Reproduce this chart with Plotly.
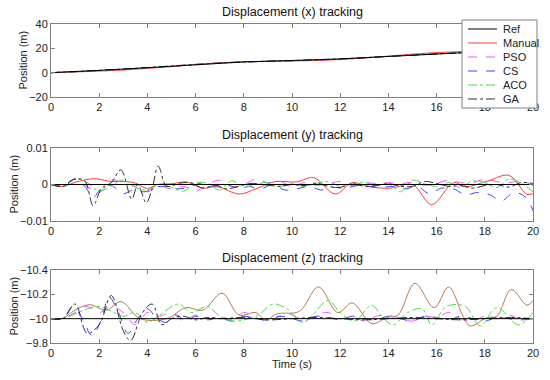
import plotly.graph_objects as go

# ---------------- data ----------------
series_names = ["Ref", "Manual", "PSO", "CS", "ACO", "GA"]
tick_times = [0, 2, 4, 6, 8, 10, 12, 14, 16, 18, 20]

# Panel 1: displacement x (m)
tx = [0, 1, 2, 3, 4, 5, 6, 7, 8, 9, 10, 11, 12, 13, 14, 15, 16, 17, 18, 19, 20]
x_ref = [0, 0.8, 1.8, 2.9, 4.1, 5.4, 6.7, 7.9, 8.8, 9.4, 9.9, 10.5, 11.3, 12.3, 13.4, 14.5, 15.5, 16.3, 17.0, 17.5, 18.0]
x_manual = [0, 0.6, 1.3, 2.2, 3.5, 5.0, 6.7, 8.1, 9.0, 9.4, 9.6, 10.0, 10.8, 12.0, 13.6, 15.2, 16.5, 17.3, 17.6, 17.8, 18.0]
x_pso = [0, 0.8, 1.7, 2.8, 4.0, 5.5, 6.9, 8.1, 8.9, 9.4, 9.8, 10.4, 11.2, 12.3, 13.5, 14.7, 15.7, 16.5, 17.1, 17.5, 18.0]
x_cs = [0, 0.9, 1.9, 3.0, 4.2, 5.4, 6.6, 7.8, 8.7, 9.3, 9.8, 10.4, 11.3, 12.4, 13.5, 14.5, 15.4, 16.2, 16.9, 17.4, 17.9]
x_aco = [0, 0.8, 1.8, 2.9, 4.1, 5.5, 6.8, 8.0, 8.8, 9.4, 9.9, 10.6, 11.4, 12.4, 13.4, 14.5, 15.5, 16.3, 17.0, 17.5, 18.0]
x_ga = [0, 0.8, 1.8, 3.0, 4.2, 5.4, 6.7, 7.9, 8.8, 9.4, 9.9, 10.5, 11.3, 12.3, 13.4, 14.5, 15.5, 16.3, 17.0, 17.5, 18.0]

# Panel 2: displacement y (m)
ty_manual = [0, 0.45, 1.0, 1.8, 2.5, 3.1, 3.5, 4.0, 4.4, 5.0, 5.6, 6.3, 6.9, 7.8, 8.5, 9.3, 10.2, 10.9, 11.8, 12.5,
             13.2, 14.1, 15.0, 15.8, 16.7, 17.2, 18.1, 19.0, 19.75, 20]
y_manual = [0, -0.0006, 0.0006, 0.0016, 0.0008, 0.0008, 0.0004, -0.0011, 0.0, 0.0002, 0.0007, -0.001, -0.0006,
            -0.0026, -0.0012, 0.0008, 0.0007, 0.0019, -0.0026, 0.0005, -0.0006, -0.001, 0.0, -0.0055, 0.0005,
            -0.0006, 0.0009, 0.0025, -0.0027, -0.0025]
ty_ga = [0, 0.5, 1.0, 1.4, 1.75, 2.1, 2.5, 2.9, 3.35, 3.6, 3.95, 4.2, 4.45, 4.8, 5.3, 5.8, 6.3, 6.8, 7.3, 7.8, 8.3,
         8.8, 9.5, 10, 10.5, 11, 11.5, 12, 12.5, 13, 13.5, 14, 14.5, 15, 15.5, 16, 16.5, 17, 17.5, 18, 18.5, 19,
         19.5, 20]
y_ga = [0, -0.0005, 0.0015, 0.001, -0.0058, -0.001, 0.0005, 0.004, -0.004, 0.0, -0.005, -0.001, 0.005, -0.0005,
        0.0003, 0.0005, -0.001, -0.0002, -0.0012, -0.0005, 0.0003, 0.0, -0.0005, 0.0, -0.0003, 0.0004, -0.0005,
        -0.0008, 0.0002, -0.0005, -0.0003, 0.0002, -0.0005, -0.0005, 0.0008, 0.0003, -0.0005, -0.0003, -0.001,
        -0.0003, 0.0, -0.0007, 0.0005, 0.0003]
ty_cs = [0, 0.5, 1.0, 1.4, 1.75, 2.1, 2.5, 3.0, 3.4, 3.9, 4.3, 4.7, 5.2, 5.7, 6.2, 6.7, 7.2, 7.7, 8.2, 8.7, 9.2,
         9.7, 10.2, 10.7, 11.2, 11.7, 12.2, 12.7, 13.2, 13.7, 14.2, 14.7, 15.2, 15.7, 16.2, 16.7, 17.2, 17.7, 18.2,
         18.7, 19.2, 19.7, 20]
y_cs = [0, -0.0003, 0.0015, -0.0005, -0.0035, -0.001, -0.0003, -0.0025, -0.0015, -0.002, -0.0008, -0.0005,
        -0.0012, -0.0008, 0.0003, -0.0005, 0.0, -0.0008, -0.0005, -0.0012, 0.0, -0.0015, -0.0012, -0.0005,
        -0.0015, -0.0008, -0.001, -0.0003, -0.0005, -0.0008, -0.0005, -0.0012, -0.0005, -0.0025, -0.001,
        -0.0012, -0.0028, -0.0022, -0.0028, -0.0045, -0.0022, -0.0035, -0.0072]
ty_half = [0, 0.5, 1.0, 1.5, 2.0, 2.5, 3.0, 3.5, 4.0, 4.5, 5.0, 5.5, 6.0, 6.5, 7.0, 7.5, 8.0, 8.5, 9.0, 9.5, 10.0,
           10.5, 11.0, 11.5, 12.0, 12.5, 13.0, 13.5, 14.0, 14.5, 15.0, 15.5, 16.0, 16.5, 17.0, 17.5, 18.0, 18.5,
           19.0, 19.5, 20.0]
y_aco = [0, -0.0005, 0.0015, 0.0005, -0.0018, -0.0003, 0.0012, -0.0008, -0.0015, 0.0, -0.0008, -0.0018, 0.0005,
         0.0003, -0.0015, 0.001, -0.0008, 0.0002, 0.0005, -0.0005, 0.0002, -0.0005, 0.0003, 0.0008, -0.0005,
         0.0002, 0.0006, -0.0003, 0.0003, -0.002, 0.0012, 0.0002, -0.0005, 0.0005, -0.0008, 0.001, 0.0005,
         -0.0008, 0.0015, 0.0004, -0.002]
y_pso = [0, -0.0003, 0.0015, -0.0005, -0.0022, 0.0012, 0.0005, -0.0005, -0.002, -0.0005, -0.0012, -0.0005,
         -0.0018, 0.0, 0.0012, -0.0005, 0.0, 0.0015, 0.0005, 0.0008, -0.0005, 0.0005, -0.0002, 0.0002, 0.0008,
         -0.0003, 0.0005, 0.0003, 0.0005, 0.0002, 0.0006, -0.0002, 0.0003, 0.0012, 0.0005, 0.0005, 0.0015,
         0.0008, 0.0005, 0.001, -0.0003]
y_ref = [0.0] * len(ty_half)

# Panel 3: displacement z (m)
tz_manual = [0, 0.45, 1.0, 1.6, 2.3, 2.9, 3.7, 4.8, 5.6, 6.3, 7.1, 7.8, 8.5, 8.9, 9.4, 10.3, 11.1, 11.9, 12.5,
             13.3, 13.95, 14.4, 15.1, 15.9, 16.5, 17.1, 17.4, 18.1, 18.5, 19.1, 19.75, 20]
z_manual = [-10, -10, -10.07, -10.115, -10.07, -10.14, -10.0, -10.0, -10.09, -10.07, -10.21, -10.03, -10.05,
            -9.99, -10.04, -10.06, -10.26, -10.05, -10.13, -9.96, -10.01, -10.03, -10.29, -10.09, -10.26, -10.02,
            -9.94, -10.01, -10.02, -10.24, -10.11, -10.15]
z_ref = [-10.0] * len(ty_half)
tz_cs = [0, 0.5, 0.9, 1.3, 1.7, 2.1, 2.4, 2.8, 3.2, 3.6, 4.0, 4.4, 4.8, 5.2, 5.6, 6.0, 6.5, 7.0, 7.5, 8.0, 8.5,
         9.0, 9.5, 10.0, 10.5, 11.0, 11.5, 12.0, 12.5, 13.0, 13.5, 14.0, 14.5, 15.0, 15.5, 16.0, 16.5, 17.0,
         17.5, 18.0, 18.5, 19.0, 19.5, 20.0]
z_cs = [-10, -10, -10.1, -10.0, -9.86, -10.0, -10.18, -10.05, -9.88, -10.0, -10.08, -10.0, -9.97, -10.03, -9.98,
        -10.02, -9.99, -10.01, -9.98, -10.02, -10.0, -9.99, -10.02, -10.0, -9.98, -10.02, -10.01, -9.99, -10.02,
        -10.0, -9.99, -10.02, -10.0, -9.98, -10.02, -10.01, -9.99, -10.02, -10.0, -9.98, -10.01, -10.0, -9.99,
        -10.0]
tz_ga = [0, 0.5, 1.0, 1.5, 2.0, 2.5, 3.0, 3.3, 3.8, 4.2, 4.6, 5.0, 5.5, 6.0, 6.5, 7.0, 8.0, 9.0, 10.0, 11.0, 12.0,
         13.0, 14.0, 15.0, 16.0, 17.0, 18.0, 19.0, 20.0]
z_ga = [-10, -10, -10.12, -9.88, -9.95, -10.19, -9.9, -9.82, -10.05, -10.12, -9.95, -10.0, -10.02, -9.99,
        -10.01, -10.0, -10.01, -9.99, -10.0, -10.01, -10.0, -9.99, -10.0, -10.01, -10.0, -9.99, -10.0, -10.01,
        -10.0]
z_pso = [-10, -10, -10.05, -10.1, -10.05, -10.1, -10.05, -9.95, -10.05, -10.02, -10.05, -9.98, -10.03, -10.0,
         -10.02, -9.99, -10.05, -10.01, -9.98, -10.02, -10.03, -9.98, -10.03, -10.05, -10.0, -10.02, -9.98,
         -10.02, -10.03, -10.0, -9.98, -10.02, -10.01, -10.05, -10.0, -9.98, -10.02, -10.0, -10.03, -9.99,
         -10.0]
tz_aco = [0, 0.5, 1.0, 1.5, 2.0, 2.5, 3.0, 3.5, 4.0, 4.5, 5.3, 5.8, 6.5, 7.0, 7.6, 8.6, 9.2, 9.8, 10.4, 10.8,
          11.5, 12.0, 12.6, 13.3, 13.8, 14.2, 14.8, 15.4, 15.8, 16.4, 17.2, 17.8, 18.5, 19.4, 20.0]
z_aco = [-10, -10, -10.04, -10.08, -10.1, -10.06, -10.02, -10.05, -9.97, -10.03, -10.12, -10.05, -10.1, -10.02,
         -9.98, -10.03, -10.12, -10.08, -9.97, -10.02, -10.15, -10.05, -9.98, -10.11, -10.0, -9.95, -10.05,
         -10.08, -9.95, -10.1, -10.1, -9.94, -10.09, -9.95, -10.05]

# ---------------- styling ----------------
colors = {"Ref": "#000000", "Manual": "#ff3a3a", "PSO": "#ff50ff", "CS": "#4040ff",
          "ACO": "#40e040", "GA": "#303030"}
dashes = {"Ref": "solid", "Manual": "solid", "PSO": "dash", "CS": "dash", "ACO": "dashdot", "GA": "dashdot"}
z_manual_color = "#b07a50"
W, H = 550, 380

fig = go.Figure()

panels = [
    ("x", "y",  {"Ref": (tx, x_ref), "Manual": (tx, x_manual), "PSO": (tx, x_pso), "CS": (tx, x_cs),
                 "ACO": (tx, x_aco), "GA": (tx, x_ga)}),
    ("x2", "y2", {"Ref": (ty_half, y_ref), "Manual": (ty_manual, y_manual), "PSO": (ty_half, y_pso),
                  "CS": (ty_cs, y_cs), "ACO": (ty_half, y_aco), "GA": (ty_ga, y_ga)}),
    ("x3", "y3", {"Ref": (ty_half, z_ref), "Manual": (tz_manual, z_manual), "PSO": (ty_half, z_pso),
                  "CS": (tz_cs, z_cs), "ACO": (tz_aco, z_aco), "GA": (tz_ga, z_ga)}),
]

draw_order = ["Manual", "PSO", "CS", "ACO", "GA", "Ref"]
for pi, (xa, ya, data) in enumerate(panels):
    for name in draw_order:
        t, v = data[name]
        col = colors[name]
        if pi == 2 and name == "Manual":
            col = z_manual_color
        fig.add_trace(go.Scatter(
            x=t, y=v, mode="lines", name=name, xaxis=xa, yaxis=ya,
            line=dict(color=col, width=1, dash=dashes[name],
                      shape="linear" if name == "Ref" else "spline", smoothing=1.0),
            showlegend=False, hoverinfo="skip"))

font_family = "Liberation Sans, Arial, sans-serif"
axis_common = dict(showgrid=False, zeroline=False, showline=True, mirror="ticks", linecolor="#808080",
                   linewidth=1, ticks="inside", ticklen=4, tickcolor="#808080", automargin=False,
                   tickfont=dict(size=11, color="#222222", family=font_family))

xdom = [51 / W, 533 / W]
ydoms = [[1 - 97 / H, 1 - 24 / H], [1 - 221 / H, 1 - 148 / H], [1 - 343 / H, 1 - 270 / H]]

layout = dict(
    width=W, height=H, margin=dict(l=0, r=0, t=0, b=0),
    paper_bgcolor="white", plot_bgcolor="white",
    font=dict(family=font_family, size=11, color="#222222"),
    showlegend=False,
)
for i, (xa, ya) in enumerate([("xaxis", "yaxis"), ("xaxis2", "yaxis2"), ("xaxis3", "yaxis3")]):
    anchor_y = "y" if i == 0 else f"y{i + 1}"
    anchor_x = "x" if i == 0 else f"x{i + 1}"
    layout[xa] = dict(domain=xdom, anchor=anchor_y, range=[0, 20], tickvals=tick_times, **axis_common)
    layout[ya] = dict(domain=ydoms[i], anchor=anchor_x, **axis_common)

layout["yaxis"].update(range=[-20, 40], tickvals=[-20, 0, 20, 40], ticktext=["\u221220", "0", "20", "40"])
layout["yaxis2"].update(range=[-0.01, 0.01], tickvals=[-0.01, 0, 0.01], ticktext=["\u22120.01", "0", "0.01"])
layout["yaxis3"].update(range=[-9.8, -10.4], tickvals=[-10.4, -10.2, -10, -9.8],
                        ticktext=["\u221210.4", "\u221210.2", "\u221210", "\u22129.8"])

fig.update_layout(**layout)

titles = ["Displacement (x) tracking", "Displacement (y) tracking", "Displacement (z) tracking"]
title_y = [12, 135, 258]
ylabel_x = [22, 13, 13]
xc = 0.5 * (xdom[0] + xdom[1])
for i, (txt, yy) in enumerate(zip(titles, title_y)):
    fig.add_annotation(text=txt, x=xc, y=1 - yy / H, xref="paper", yref="paper",
                       showarrow=False, font=dict(size=12.5, family=font_family, color="#111111"),
                       xanchor="center", yanchor="middle")
    fig.add_annotation(text="Position (m)", x=ylabel_x[i] / W, y=0.5 * (ydoms[i][0] + ydoms[i][1]),
                       xref="paper", yref="paper", showarrow=False, textangle=-90,
                       font=dict(size=11, family=font_family, color="#222222"),
                       xanchor="center", yanchor="middle")
fig.add_annotation(text="Time (s)", x=xc, y=1 - 364 / H, xref="paper", yref="paper", showarrow=False,
                   font=dict(size=11, family=font_family, color="#222222"), xanchor="center", yanchor="middle")

# hand-built legend box
lx0, lx1, ly0, ly1 = 462, 537, 20, 108
fig.add_shape(type="rect", xref="paper", yref="paper", x0=lx0 / W, x1=lx1 / W, y0=1 - ly1 / H, y1=1 - ly0 / H,
              line=dict(color="#808080", width=1), fillcolor="white", layer="above")
row_y = [29, 43, 57, 71, 85, 99]
for k, name in enumerate(series_names):
    yc = row_y[k]
    fig.add_shape(type="line", xref="paper", yref="paper", x0=468 / W, x1=497 / W, y0=1 - yc / H, y1=1 - yc / H,
                  line=dict(color=colors[name], width=1, dash=dashes[name]), layer="above")
    fig.add_annotation(text=name, x=501 / W, y=1 - yc / H, xref="paper", yref="paper", showarrow=False,
                       xanchor="left", yanchor="middle", font=dict(size=11, family=font_family, color="#222222"))

fig.write_html("out.html", config={"displayModeBar": False, "staticPlot": True},
               post_script="document.body.style.margin='0px';document.body.style.overflow='hidden';")
